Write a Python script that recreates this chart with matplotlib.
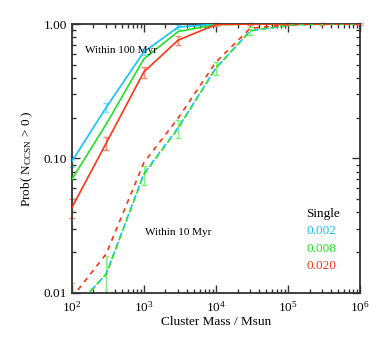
import matplotlib
matplotlib.use("Agg")
import matplotlib.pyplot as plt
from matplotlib.ticker import FixedLocator, LogLocator, NullFormatter

plt.rcParams['font.family'] = 'Liberation Serif'
plt.rcParams['mathtext.fontset'] = 'custom'
plt.rcParams['mathtext.rm'] = 'Liberation Serif'
plt.rcParams['mathtext.it'] = 'Liberation Serif:italic'

mass = [1e2, 3e2, 1e3, 3e3, 1e4, 3e4, 1e5, 3e5, 1e6]

# within 100 Myr (solid)
p100_002 = [0.095, 0.24, 0.62, 0.95, 1.0, 1.0, 1.0, 1.0, 1.0]
p100_008 = [0.070, 0.18, 0.55, 0.88, 0.99, 1.0, 1.0, 1.0, 1.0]
p100_020 = [0.043, 0.13, 0.44, 0.76, 0.99, 1.0, 1.0, 1.0, 1.0]
err100_002 = [0.009, 0.02, 0.03, 0.03, 0.0, 0.0, 0.0, 0.0, 0.0]
err100_020 = [0.007, 0.015, 0.04, 0.06, 0.02, 0.02, 0.02, 0.02, 0.02]

# within 10 Myr (dashed)
p10_002 = [0.0073, 0.0138, 0.077, 0.17, 0.47, 0.89, 0.98, 1.0, 1.0]
p10_008 = [0.0073, 0.0138, 0.076, 0.168, 0.47, 0.89, 0.98, 1.0, 1.0]
p10_020 = [0.0092, 0.0195, 0.093, 0.20, 0.52, 0.93, 0.99, 1.0, 1.0]
err10_008 = [0.0045, 0.005, 0.012, 0.025, 0.05, 0.06, 0.02, 0.0, 0.0]

c_cyan, c_green, c_red = '#12c3ff', '#22e222', '#ff3415'
e_cyan, e_green, e_red = '#7fdcff', '#80f080', '#f58a7a'

fig = plt.figure(figsize=(3.82, 3.39), dpi=100)
ax = fig.add_axes([0.188, 0.136, 0.754, 0.793])

ax.errorbar(mass[:4], p100_002[:4], yerr=err100_002[:4], fmt='none', ecolor=e_cyan,
            elinewidth=1, capsize=2.5, zorder=2, clip_on=False)
ax.errorbar(mass, p100_020, yerr=err100_020, fmt='none', ecolor=e_red,
            elinewidth=1, capsize=2.5, zorder=2, clip_on=False)
ax.errorbar(mass[:6], p10_008[:6], yerr=err10_008[:6], fmt='none', ecolor=e_green,
            elinewidth=1, capsize=2.5, zorder=2)

ax.plot(mass, p100_002, color=c_cyan, lw=1.2, zorder=3)
ax.plot(mass, p100_008, color=c_green, lw=1.2, zorder=3)
ax.plot(mass, p100_020, color=c_red, lw=1.2, zorder=3)
ax.plot(mass, p10_002, color=c_cyan, lw=1.2, ls=(0, (3, 3)), zorder=3)
ax.plot(mass, p10_008, color=c_green, lw=1.2, ls=(2, (3, 3)), zorder=3)
ax.plot(mass, p10_020, color=c_red, lw=1.2, ls=(0, (3, 3)), zorder=3)

ax.set_xscale('log')
ax.set_yscale('log')
ax.set_xlim(1e2, 1e6)
ax.set_ylim(0.01, 1.0)

ax.xaxis.set_major_locator(FixedLocator([1e2, 1e3, 1e4, 1e5, 1e6]))
ax.set_xticklabels([r'$10^{2}$', r'$10^{3}$', r'$10^{4}$', r'$10^{5}$', r'$10^{6}$'])
ax.xaxis.set_minor_locator(LogLocator(base=10, subs=range(2, 10)))
ax.xaxis.set_minor_formatter(NullFormatter())
ax.yaxis.set_major_locator(FixedLocator([0.01, 0.1, 1.0]))
ax.set_yticklabels(['0.01', '0.10', '1.00'])
ax.yaxis.set_minor_locator(LogLocator(base=10, subs=range(2, 10)))
ax.yaxis.set_minor_formatter(NullFormatter())

ax.tick_params(which='both', direction='in', top=True, right=True, labelsize=9.5, color='#333333')
ax.tick_params(which='major', length=6, width=1)
ax.tick_params(which='minor', length=3, width=1)
ax.tick_params(axis='x', pad=5)
for s in ax.spines.values():
    s.set_linewidth(1.3)
    s.set_color('#333333')

ax.set_xlabel('Cluster Mass / Msun', fontsize=9.5, labelpad=1)
ax.set_ylabel(r'Prob( N$_{\rm CCSN}$ > 0 )', fontsize=9.5, labelpad=6)

ax.text(0.045, 0.9, 'Within 100 Myr', transform=ax.transAxes, fontsize=8, va='center')
ax.text(0.255, 0.225, 'Within 10 Myr', transform=ax.transAxes, fontsize=8, va='center')

ax.text(0.815, 0.293, 'Single', transform=ax.transAxes, fontsize=9.5, va='center')
ax.text(0.815, 0.23, '0.002', transform=ax.transAxes, fontsize=9.5, va='center', color=c_cyan)
ax.text(0.815, 0.165, '0.008', transform=ax.transAxes, fontsize=9.5, va='center', color=c_green)
ax.text(0.815, 0.1, '0.020', transform=ax.transAxes, fontsize=9.5, va='center', color=c_red)

fig.savefig('out.png', dpi=100)
